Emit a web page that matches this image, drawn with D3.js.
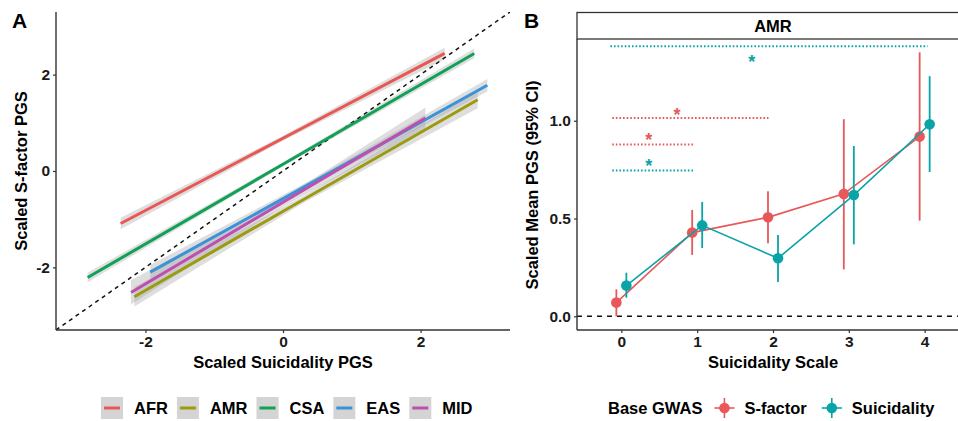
<!DOCTYPE html>
<html>
<head>
<meta charset="utf-8">
<script src="https://cdn.jsdelivr.net/npm/d3@7"></script>
<style>
  html, body { margin: 0; padding: 0; background: #fff; }
  svg { display: block; font-family: "Liberation Sans", Arial, sans-serif; }
  .bold { font-weight: bold; }
</style>
</head>
<body>
<svg id="chart" width="958" height="421"></svg>
<script>
/* Two panels: A = fitted PGS lines per ancestry, B = mean PGS by suicidality scale (AMR). */

// ---- panel A data ----
var ancestries = ["AFR", "AMR", "CSA", "EAS", "MID"];
var ancestryColors = ["#EA5653", "#9C9A10", "#10A157", "#3A92D8", "#BE4FB0"];
// fitted line: x at start / middle / end, fitted y, CI half width
var fitX = [
  [-2.36, 0.00, 2.35],
  [-2.16, 0.30, 2.83],
  [-2.84, 0.00, 2.78],
  [-1.93, 0.50, 2.97],
  [-2.21, 0.00, 2.07]
];
var fitY = [
  [-1.09, 0.68, 2.44],
  [-2.61, -0.59, 1.48],
  [-2.21, 0.14, 2.44],
  [-2.10, -0.18, 1.78],
  [-2.52, -0.65, 1.10]
];
var fitCI = [
  [0.12, 0.05, 0.12],
  [0.20, 0.07, 0.18],
  [0.10, 0.04, 0.10],
  [0.15, 0.06, 0.13],
  [0.25, 0.09, 0.22]
];
var axisTicksA = [-2, 0, 2];

// ---- panel B data ----
var scaleLevels = [0, 1, 2, 3, 4];
var gwasGroups = ["S-factor", "Suicidality"];
var gwasColors = ["#E8585A", "#0AA3A8"];
var sfMean = [0.07, 0.428, 0.506, 0.626, 0.919];
var sfLow  = [0.00, 0.314, 0.373, 0.240, 0.489];
var sfHigh = [0.138, 0.544, 0.639, 1.008, 1.350];
var suMean = [0.157, 0.465, 0.297, 0.620, 0.982];
var suLow  = [0.095, 0.349, 0.175, 0.368, 0.738];
var suHigh = [0.223, 0.585, 0.416, 0.871, 1.228];
var yTicksB = [0.0, 0.5, 1.0];
// significance brackets: group index, from, to, height, asterisk x / y
var sigGroup = [1, 0, 0, 1];
var sigFrom  = [-0.145, -0.12, -0.12, -0.12];
var sigTo    = [4.04, 1.94, 0.946, 0.946];
var sigY     = [1.381, 1.014, 0.878, 0.745];
var starX    = [1.72, 0.735, 0.36, 0.36];
var starY    = [1.321, 1.049, 0.922, 0.788];

var svg = d3.select("#chart");
var axisColor = "#333";
var tickText = "#1a1a1a";

// ================= Panel A =================
var xA = d3.scaleLinear().domain([-3.3, 3.3]).range([56, 510]);
var yA = d3.scaleLinear().domain([-3.3, 3.3]).range([330, 12]);

svg.append("clipPath").attr("id", "clipA")
  .append("rect").attr("x", 56).attr("y", 12).attr("width", 454).attr("height", 318);

var gA = svg.append("g").attr("clip-path", "url(#clipA)");

var band = d3.area()
  .x(function (d) { return xA(d.x); })
  .y0(function (d) { return yA(d.y - d.ci); })
  .y1(function (d) { return yA(d.y + d.ci); });

var fitLine = d3.line()
  .x(function (d) { return xA(d.x); })
  .y(function (d) { return yA(d.y); });

var fits = ancestries.map(function (name, i) {
  return fitX[i].map(function (x, j) { return { x: x, y: fitY[i][j], ci: fitCI[i][j] }; });
});

gA.selectAll("path.band").data(fits).enter().append("path")
  .attr("class", "band")
  .attr("d", band)
  .attr("fill", "#a0a0a0")
  .attr("fill-opacity", 0.35);

// identity line
gA.append("path")
  .datum([{ x: -3.3, y: -3.3 }, { x: 3.3, y: 3.3 }])
  .attr("d", fitLine)
  .attr("fill", "none")
  .attr("stroke", "#111")
  .attr("stroke-width", 1.5)
  .attr("stroke-dasharray", "4,4");

gA.selectAll("path.fit").data(fits).enter().append("path")
  .attr("class", "fit")
  .attr("d", fitLine)
  .attr("fill", "none")
  .attr("stroke", function (d, i) { return ancestryColors[i]; })
  .attr("stroke-width", 3);

var axA_x = svg.append("g").attr("transform", "translate(0,330)")
  .call(d3.axisBottom(xA).tickValues(axisTicksA).tickSize(3).tickPadding(3).tickFormat(d3.format("d")));
var axA_y = svg.append("g").attr("transform", "translate(56,0)")
  .call(d3.axisLeft(yA).tickValues(axisTicksA).tickSize(3).tickPadding(3).tickFormat(d3.format("d")));

[axA_x, axA_y].forEach(function (ax) {
  ax.select(".domain").attr("stroke", axisColor).attr("stroke-width", 1.4);
  ax.selectAll(".tick line").attr("stroke", axisColor).attr("stroke-width", 1.2);
  ax.selectAll(".tick text").attr("class", "bold").attr("font-size", 15.5).attr("fill", tickText)
    .text(function (d) { return d < 0 ? "-" + Math.abs(d) : d; });
});
axA_x.select(".domain").attr("d", "M56,0H510");
axA_y.select(".domain").attr("d", "M0,330V12");

svg.append("text").attr("class", "bold").attr("x", 283).attr("y", 368)
  .attr("text-anchor", "middle").attr("font-size", 16.5).attr("fill", "#000")
  .text("Scaled Suicidality PGS");
svg.append("text").attr("class", "bold")
  .attr("transform", "translate(27,171) rotate(-90)")
  .attr("text-anchor", "middle").attr("font-size", 16.5).attr("fill", "#000")
  .text("Scaled S-factor PGS");
svg.append("text").attr("class", "bold").attr("x", 12).attr("y", 28)
  .attr("font-size", 21).attr("fill", "#000").text("A");

// legend A
var legA = svg.append("g");
var lx = 101;
ancestries.forEach(function (name, i) {
  legA.append("rect").attr("x", lx).attr("y", 397).attr("width", 22).attr("height", 22)
    .attr("fill", "#d4d4d4");
  legA.append("line").attr("x1", lx + 3).attr("x2", lx + 19).attr("y1", 408).attr("y2", 408)
    .attr("stroke", ancestryColors[i]).attr("stroke-width", 3);
  var t = legA.append("text").attr("class", "bold").attr("x", lx + 33).attr("y", 414)
    .attr("font-size", 16.5).attr("fill", "#000").text(name);
  lx += 33 + t.node().getComputedTextLength() + 9;
});

// ================= Panel B =================
var xB = d3.scaleLinear().domain([-0.585, 4.585]).range([577, 969]);
var yB = d3.scaleLinear().domain([-0.07, 1.418]).range([330, 39]);
var dodge = 0.066;

// strip
svg.append("rect").attr("x", 577).attr("y", 12.5).attr("width", 392).attr("height", 26.5)
  .attr("fill", "#fff").attr("stroke", axisColor).attr("stroke-width", 1.3);
svg.append("text").attr("class", "bold").attr("x", xB(2)).attr("y", 32)
  .attr("text-anchor", "middle").attr("font-size", 16.5).attr("fill", "#000").text("AMR");

var gB = svg.append("g");

gB.append("line").attr("x1", 577).attr("x2", 969).attr("y1", yB(0)).attr("y2", yB(0))
  .attr("stroke", "#111").attr("stroke-width", 1.5).attr("stroke-dasharray", "5,5");

var groupsB = [
  { name: gwasGroups[0], off: -dodge, mean: sfMean, lo: sfLow, hi: sfHigh, color: gwasColors[0] },
  { name: gwasGroups[1], off: dodge, mean: suMean, lo: suLow, hi: suHigh, color: gwasColors[1] }
];

// significance brackets
sigGroup.forEach(function (g, i) {
  gB.append("line")
    .attr("x1", xB(sigFrom[i])).attr("x2", xB(sigTo[i]))
    .attr("y1", yB(sigY[i])).attr("y2", yB(sigY[i]))
    .attr("stroke", gwasColors[g]).attr("stroke-width", 2)
    .attr("stroke-dasharray", "1.6,2");
  gB.append("text").attr("class", "bold")
    .attr("x", xB(starX[i])).attr("y", yB(starY[i]) + 10)
    .attr("text-anchor", "middle").attr("font-size", 18)
    .attr("fill", gwasColors[g]).text("*");
});

groupsB.forEach(function (g) {
  var pts = scaleLevels.map(function (s, j) {
    return { x: s + g.off, m: g.mean[j], lo: g.lo[j], hi: g.hi[j] };
  });
  gB.append("path").datum(pts)
    .attr("d", d3.line().x(function (d) { return xB(d.x); }).y(function (d) { return yB(d.m); }))
    .attr("fill", "none").attr("stroke", g.color).attr("stroke-width", 1.6);
  gB.selectAll(null).data(pts).enter().append("line")
    .attr("x1", function (d) { return xB(d.x); }).attr("x2", function (d) { return xB(d.x); })
    .attr("y1", function (d) { return yB(d.lo); }).attr("y2", function (d) { return yB(d.hi); })
    .attr("stroke", g.color).attr("stroke-width", 1.8);
  gB.selectAll(null).data(pts).enter().append("circle")
    .attr("cx", function (d) { return xB(d.x); }).attr("cy", function (d) { return yB(d.m); })
    .attr("r", 5.3).attr("fill", g.color);
});

var axB_x = svg.append("g").attr("transform", "translate(0,330)")
  .call(d3.axisBottom(xB).tickValues(scaleLevels).tickSize(3).tickPadding(3).tickFormat(d3.format("d")));
var axB_y = svg.append("g").attr("transform", "translate(577,0)")
  .call(d3.axisLeft(yB).tickValues(yTicksB).tickSize(3).tickPadding(3).tickFormat(d3.format(".1f")));
[axB_x, axB_y].forEach(function (ax) {
  ax.select(".domain").attr("stroke", axisColor).attr("stroke-width", 1.4);
  ax.selectAll(".tick line").attr("stroke", axisColor).attr("stroke-width", 1.2);
  ax.selectAll(".tick text").attr("class", "bold").attr("font-size", 15.5).attr("fill", tickText);
});
axB_x.select(".domain").attr("d", "M577,0H969");
axB_y.select(".domain").attr("d", "M0,330V39");

svg.append("text").attr("class", "bold").attr("x", xB(2)).attr("y", 368)
  .attr("text-anchor", "middle").attr("font-size", 16.5).attr("fill", "#000")
  .text("Suicidality Scale");
svg.append("text").attr("class", "bold")
  .attr("transform", "translate(538,185) rotate(-90)")
  .attr("text-anchor", "middle").attr("font-size", 16.5).attr("fill", "#000")
  .text("Scaled Mean PGS (95% CI)");
svg.append("text").attr("class", "bold").attr("x", 524).attr("y", 28)
  .attr("font-size", 21).attr("fill", "#000").text("B");

// legend B
var legB = svg.append("g");
var t0 = legB.append("text").attr("class", "bold").attr("x", 608).attr("y", 414)
  .attr("font-size", 16.5).attr("fill", "#000").text("Base GWAS");
var bx = 608 + t0.node().getComputedTextLength() + 12;
gwasGroups.forEach(function (name, i) {
  var cx = bx + 10;
  legB.append("line").attr("x1", cx - 10).attr("x2", cx + 10).attr("y1", 408).attr("y2", 408)
    .attr("stroke", gwasColors[i]).attr("stroke-width", 1.6);
  legB.append("line").attr("x1", cx).attr("x2", cx).attr("y1", 398).attr("y2", 418)
    .attr("stroke", gwasColors[i]).attr("stroke-width", 1.6);
  legB.append("circle").attr("cx", cx).attr("cy", 408).attr("r", 5.3).attr("fill", gwasColors[i]);
  var t = legB.append("text").attr("class", "bold").attr("x", bx + 30).attr("y", 414)
    .attr("font-size", 16.5).attr("fill", "#000").text(name);
  bx += 30 + t.node().getComputedTextLength() + 15;
});
</script>
</body>
</html>
